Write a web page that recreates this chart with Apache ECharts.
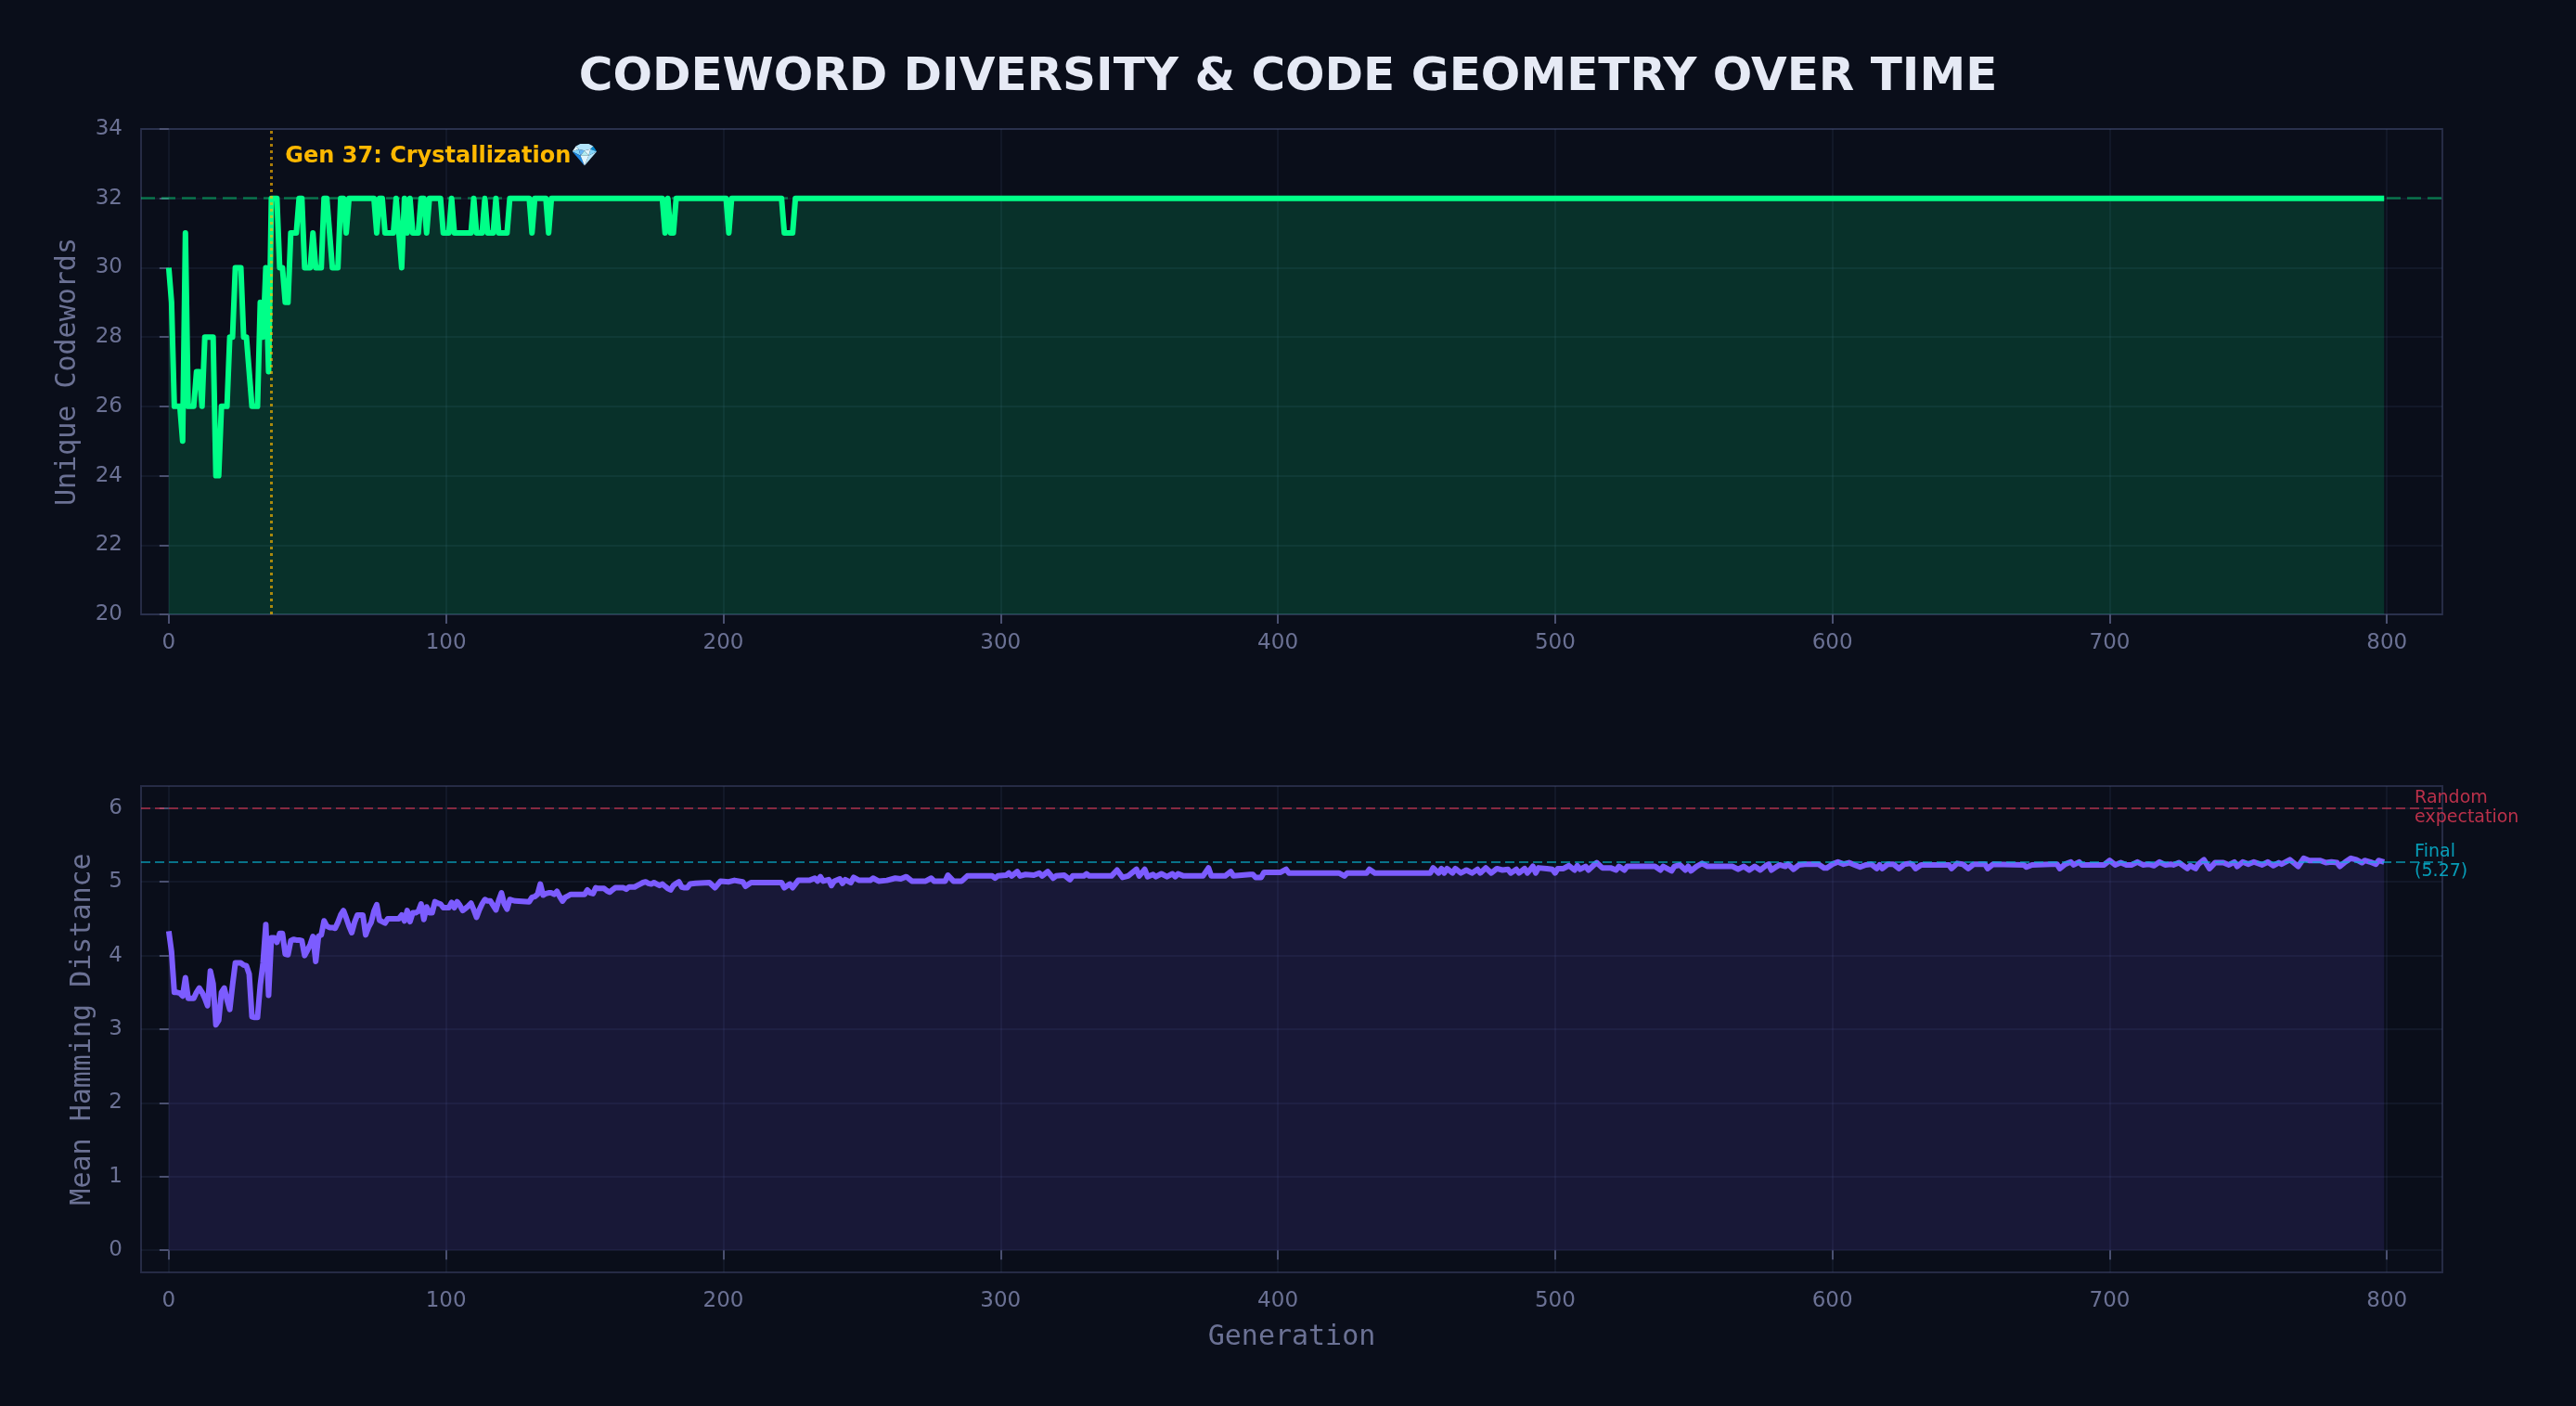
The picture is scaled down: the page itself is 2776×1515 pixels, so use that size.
<!DOCTYPE html>
<html>
<head>
<meta charset="utf-8">
<title>Codeword Diversity & Code Geometry</title>
<script src="https://cdn.jsdelivr.net/npm/echarts@6/dist/echarts.min.js"></script>
<style>
  html, body { margin: 0; padding: 0; background: #0a0e1a; }
  #chart { width: 2776px; height: 1515px; }
</style>
</head>
<body>
<div id="chart"></div>
<script>
// tick labels
var genTicks = [0, 100, 200, 300, 400, 500, 600, 700, 800];
var hammingTicks = [0, 1, 2, 3, 4, 5, 6];

// unique codewords per generation (points where the value changes)
var codewordGens = [0, 1, 2, 3, 4, 5, 6, 7, 8, 9, 10, 11, 12, 13, 14, 15, 16, 17, 18, 19,
  20, 21, 22, 23, 24, 25, 26, 27, 28, 29, 30, 31, 32, 33, 34, 35, 36, 37, 38, 39,
  40, 41, 42, 43, 44, 45, 46, 47, 48, 49, 50, 51, 52, 53, 54, 55, 56, 57, 58, 59,
  60, 61, 62, 63, 64, 65, 74, 75, 76, 77, 78, 81, 82, 83, 84, 85, 86, 87, 88, 90,
  91, 92, 93, 94, 98, 99, 101, 102, 103, 109, 110, 111, 113, 114, 115, 117, 118, 119, 122, 123,
  130, 131, 132, 136, 137, 138, 178, 179, 180, 181, 182, 183, 201, 202, 203, 221, 222, 225, 226, 799];
var codewordVals = [30, 29, 26, 26, 26, 25, 31, 26, 26, 26, 27, 27, 26, 28, 28, 28, 28, 24, 24, 26,
  26, 26, 28, 28, 30, 30, 30, 28, 28, 27, 26, 26, 26, 29, 28, 30, 27, 32, 32, 32,
  30, 30, 29, 29, 31, 31, 31, 32, 32, 30, 30, 30, 31, 30, 30, 30, 32, 32, 31, 30,
  30, 30, 32, 32, 31, 32, 32, 31, 32, 32, 31, 31, 32, 31, 30, 32, 31, 32, 31, 31,
  32, 32, 31, 32, 32, 31, 31, 32, 31, 31, 32, 31, 31, 32, 31, 31, 32, 31, 31, 32,
  32, 31, 32, 32, 31, 32, 32, 31, 32, 31, 31, 32, 32, 31, 32, 32, 31, 31, 32, 32];

// mean hamming distance per generation
var hammingGens = [0, 1, 2, 3, 4, 5, 6, 7, 8, 9, 10, 11, 12, 13, 14, 15, 16, 17, 18, 19,
  20, 21, 22, 23, 24, 25, 26, 27, 28, 29, 30, 31, 32, 33, 34, 35, 36, 37, 38, 39,
  40, 41, 42, 43, 44, 45, 46, 47, 48, 49, 50, 51, 52, 53, 54, 55, 56, 57, 58, 59,
  60, 61, 62, 63, 64, 65, 66, 67, 68, 69, 70, 71, 72, 73, 74, 75, 76, 77, 78, 79,
  80, 83, 84, 85, 86, 87, 88, 89, 90, 91, 92, 93, 94, 95, 96, 97, 98, 99, 100, 101,
  102, 103, 104, 105, 106, 107, 108, 109, 110, 111, 112, 113, 114, 115, 116, 117, 118, 119, 120, 121,
  122, 123, 124, 125, 130, 131, 132, 133, 134, 135, 136, 137, 138, 139, 140, 141, 142, 143, 144, 145,
  150, 151, 152, 153, 154, 155, 157, 158, 159, 160, 161, 164, 165, 166, 168, 169, 170, 171, 172, 173,
  174, 175, 176, 177, 178, 179, 180, 181, 182, 183, 184, 185, 186, 187, 188, 190, 195, 197, 199, 202,
  204, 207, 208, 210, 221, 222, 224, 225, 227, 231, 233, 234, 235, 236, 238, 239, 240, 242, 243, 244,
  246, 247, 249, 253, 254, 256, 259, 262, 264, 266, 268, 273, 275, 276, 280, 281, 283, 286, 288, 297,
  298, 299, 302, 303, 304, 306, 307, 309, 312, 314, 315, 317, 319, 320, 323, 325, 326, 330, 331, 332,
  340, 342, 344, 346, 349, 350, 352, 353, 355, 356, 358, 360, 362, 363, 364, 366, 373, 375, 376, 381,
  383, 384, 390, 391, 392, 394, 395, 401, 403, 404, 422, 424, 425, 432, 433, 435, 455, 456, 458, 459,
  460, 461, 463, 464, 466, 468, 470, 472, 473, 475, 477, 479, 481, 483, 484, 486, 487, 489, 490, 492,
  493, 494, 497, 499, 500, 501, 503, 505, 507, 508, 509, 511, 512, 514, 515, 517, 520, 522, 523, 525,
  526, 536, 538, 539, 542, 543, 545, 547, 548, 549, 551, 553, 555, 564, 566, 568, 570, 572, 574, 576,
  577, 578, 580, 581, 583, 584, 586, 588, 590, 595, 597, 598, 600, 602, 604, 606, 608, 610, 612, 614,
  616, 617, 618, 620, 622, 624, 626, 628, 629, 630, 632, 642, 643, 645, 647, 649, 651, 655, 656, 658,
  669, 670, 672, 679, 681, 682, 684, 686, 687, 689, 690, 698, 700, 702, 704, 706, 708, 710, 712, 714,
  716, 718, 720, 722, 723, 725, 728, 729, 731, 732, 734, 736, 738, 741, 743, 745, 746, 748, 750, 752,
  755, 757, 759, 761, 762, 765, 766, 768, 770, 772, 774, 776, 778, 780, 782, 783, 785, 787, 789, 791,
  792, 794, 796, 797, 799];
var hammingVals = [4.33, 4.05, 3.50, 3.50, 3.49, 3.45, 3.70, 3.42, 3.42, 3.42, 3.50, 3.56, 3.50, 3.42, 3.32, 3.79, 3.62, 3.06, 3.12, 3.50,
  3.56, 3.40, 3.27, 3.60, 3.90, 3.90, 3.90, 3.87, 3.86, 3.75, 3.17, 3.16, 3.16, 3.60, 3.90, 4.42, 3.46, 4.24, 4.24, 4.18,
  4.30, 4.30, 4.02, 4.01, 4.20, 4.22, 4.21, 4.21, 4.20, 4.00, 4.07, 4.15, 4.26, 3.92, 4.26, 4.28, 4.47, 4.40, 4.38, 4.38,
  4.37, 4.45, 4.55, 4.61, 4.51, 4.40, 4.31, 4.45, 4.55, 4.55, 4.55, 4.28, 4.38, 4.45, 4.60, 4.69, 4.48, 4.46, 4.44, 4.50,
  4.50, 4.50, 4.55, 4.47, 4.61, 4.46, 4.58, 4.58, 4.60, 4.70, 4.49, 4.66, 4.58, 4.58, 4.73, 4.71, 4.70, 4.65, 4.65, 4.65,
  4.72, 4.65, 4.73, 4.68, 4.61, 4.64, 4.67, 4.71, 4.62, 4.52, 4.62, 4.70, 4.76, 4.74, 4.74, 4.68, 4.62, 4.75, 4.85, 4.70,
  4.63, 4.76, 4.75, 4.74, 4.73, 4.79, 4.80, 4.83, 4.97, 4.82, 4.84, 4.85, 4.85, 4.83, 4.87, 4.80, 4.74, 4.79, 4.81, 4.83,
  4.83, 4.89, 4.85, 4.84, 4.92, 4.91, 4.91, 4.88, 4.86, 4.89, 4.92, 4.92, 4.90, 4.93, 4.93, 4.95, 4.97, 4.99, 5.00, 4.98,
  4.97, 4.99, 4.97, 4.95, 4.97, 4.94, 4.91, 4.89, 4.95, 4.98, 5.00, 4.93, 4.92, 4.92, 4.97, 4.98, 4.99, 4.92, 5.01, 5.00,
  5.02, 5.00, 4.94, 4.99, 4.99, 4.92, 4.97, 4.92, 5.02, 5.02, 5.05, 5.01, 5.07, 5.01, 5.03, 4.95, 5.01, 5.04, 4.98, 5.03,
  4.99, 5.06, 5.02, 5.02, 5.05, 5.01, 5.02, 5.05, 5.04, 5.07, 5.01, 5.01, 5.05, 5.01, 5.01, 5.09, 5.01, 5.01, 5.08, 5.08,
  5.05, 5.08, 5.09, 5.12, 5.08, 5.14, 5.08, 5.10, 5.09, 5.12, 5.08, 5.14, 5.05, 5.08, 5.09, 5.03, 5.08, 5.08, 5.11, 5.08,
  5.08, 5.16, 5.06, 5.08, 5.17, 5.08, 5.17, 5.07, 5.10, 5.07, 5.11, 5.07, 5.11, 5.07, 5.11, 5.08, 5.08, 5.19, 5.08, 5.08,
  5.14, 5.08, 5.10, 5.10, 5.06, 5.06, 5.13, 5.13, 5.17, 5.12, 5.12, 5.08, 5.12, 5.12, 5.17, 5.12, 5.12, 5.19, 5.12, 5.18,
  5.12, 5.18, 5.12, 5.18, 5.12, 5.16, 5.12, 5.17, 5.12, 5.19, 5.12, 5.18, 5.16, 5.17, 5.12, 5.17, 5.12, 5.18, 5.12, 5.21,
  5.12, 5.19, 5.18, 5.17, 5.12, 5.18, 5.18, 5.22, 5.16, 5.22, 5.17, 5.21, 5.16, 5.23, 5.26, 5.19, 5.19, 5.16, 5.21, 5.16,
  5.21, 5.21, 5.16, 5.21, 5.15, 5.21, 5.23, 5.16, 5.21, 5.15, 5.21, 5.25, 5.21, 5.21, 5.17, 5.21, 5.16, 5.21, 5.16, 5.22,
  5.24, 5.16, 5.21, 5.23, 5.21, 5.24, 5.17, 5.23, 5.24, 5.24, 5.19, 5.19, 5.24, 5.27, 5.24, 5.26, 5.23, 5.20, 5.23, 5.24,
  5.18, 5.23, 5.18, 5.24, 5.24, 5.18, 5.24, 5.25, 5.23, 5.18, 5.23, 5.23, 5.18, 5.25, 5.24, 5.18, 5.24, 5.24, 5.18, 5.24,
  5.23, 5.20, 5.23, 5.24, 5.24, 5.18, 5.24, 5.27, 5.23, 5.27, 5.23, 5.23, 5.29, 5.23, 5.26, 5.23, 5.23, 5.27, 5.23, 5.24,
  5.22, 5.27, 5.23, 5.24, 5.23, 5.26, 5.18, 5.22, 5.18, 5.24, 5.30, 5.18, 5.26, 5.26, 5.23, 5.27, 5.21, 5.27, 5.24, 5.27,
  5.23, 5.27, 5.22, 5.26, 5.24, 5.30, 5.27, 5.21, 5.32, 5.29, 5.29, 5.29, 5.26, 5.27, 5.26, 5.21, 5.27, 5.32, 5.30, 5.26,
  5.29, 5.27, 5.24, 5.29, 5.27];

var crystalGen = 37;
var optimalCount = 32;
var randomExpectation = 6;
var finalDistance = 5.27;

function zip(xs, ys) {
  var out = [];
  for (var i = 0; i < xs.length; i++) out.push([xs[i], ys[i]]);
  return out;
}

var bg = '#0a0e1a';
var labelColor = '#6b7194';
var frameColor = '#262b45';
var gridColor = 'rgba(80,90,140,0.18)';

function xAxisFor(idx, name) {
  return {
    type: 'value', gridIndex: idx, min: -10, max: 820,
    name: name || '', nameLocation: 'middle', nameGap: 55,
    nameTextStyle: { color: labelColor, fontSize: 30, fontFamily: 'DejaVu Sans Mono' },
    axisLine: { show: false },
    axisTick: { show: true, length: 10, customValues: genTicks, lineStyle: { color: '#4a5070', width: 2 } },
    axisLabel: { customValues: genTicks, color: labelColor, fontSize: 23, fontFamily: 'DejaVu Sans', margin: 20 },
    splitLine: { show: true, lineStyle: { color: gridColor, width: 1.5 } }
  };
}

var chart = echarts.init(document.getElementById('chart'));
chart.setOption({
  backgroundColor: bg,
  animation: false,
  title: {
    text: 'CODEWORD DIVERSITY & CODE GEOMETRY OVER TIME',
    left: 'center', top: 54,
    textStyle: { color: '#e6eaf5', fontSize: 50, fontWeight: 'bold', fontFamily: 'DejaVu Sans' }
  },
  grid: [
    { left: 152, top: 139, width: 2480, height: 523, show: true, borderColor: frameColor, borderWidth: 2,
      backgroundColor: 'transparent', containLabel: false, outerBoundsMode: 'none' },
    { left: 152, top: 847, width: 2480, height: 524, show: true, borderColor: frameColor, borderWidth: 2,
      backgroundColor: 'transparent', containLabel: false, outerBoundsMode: 'none' }
  ],
  xAxis: [xAxisFor(0), xAxisFor(1, 'Generation')],
  yAxis: [
    {
      type: 'value', gridIndex: 0, min: 20, max: 34, interval: 2,
      name: 'Unique Codewords', nameLocation: 'middle', nameGap: 64,
      nameTextStyle: { color: labelColor, fontSize: 30, fontFamily: 'DejaVu Sans Mono' },
      axisLine: { show: false },
      axisTick: { show: true, length: 10, lineStyle: { color: '#4a5070', width: 2 } },
      axisLabel: { color: labelColor, fontSize: 23, fontFamily: 'DejaVu Sans', margin: 20 },
      splitLine: { show: true, lineStyle: { color: gridColor, width: 1.5 } }
    },
    {
      type: 'value', gridIndex: 1, min: -0.3, max: 6.3,
      name: 'Mean Hamming Distance', nameLocation: 'middle', nameGap: 48,
      nameTextStyle: { color: labelColor, fontSize: 30, fontFamily: 'DejaVu Sans Mono' },
      axisLine: { show: false },
      axisTick: { show: true, length: 10, customValues: hammingTicks, lineStyle: { color: '#4a5070', width: 2 } },
      axisLabel: { customValues: hammingTicks, color: labelColor, fontSize: 23, fontFamily: 'DejaVu Sans', margin: 20 },
      splitLine: { show: true, lineStyle: { color: gridColor, width: 1.5 } }
    }
  ],
  series: [
    {
      name: 'Unique Codewords', type: 'line', xAxisIndex: 0, yAxisIndex: 0,
      data: zip(codewordGens, codewordVals),
      showSymbol: false, clip: false,
      lineStyle: { color: '#00ff88', width: 6, join: 'round' },
      areaStyle: { color: 'rgba(0,255,136,0.15)', opacity: 1, origin: 'start' },
      markLine: {
        silent: true, symbol: 'none', label: { show: false },
        data: [
          { yAxis: optimalCount, lineStyle: { color: 'rgba(0,255,136,0.4)', width: 2.5, type: [15, 7] } },
          { xAxis: crystalGen, lineStyle: { color: 'rgba(255,184,0,0.65)', width: 3, type: [3, 4] } }
        ]
      },
      markPoint: {
        symbol: 'circle', symbolSize: 0, silent: true,
        data: [{
          coord: [crystalGen + 5, 33.2],
          label: {
            show: true, position: 'right', distance: 0,
            formatter: 'Gen ' + crystalGen + ': Crystallization\uD83D\uDC8E',
            color: '#ffb800', fontSize: 24, fontWeight: 'bold', fontFamily: 'DejaVu Sans'
          }
        }]
      }
    },
    {
      name: 'Mean Hamming Distance', type: 'line', xAxisIndex: 1, yAxisIndex: 1,
      data: zip(hammingGens, hammingVals),
      showSymbol: false, clip: false,
      lineStyle: { color: '#7c5cff', width: 6, join: 'round' },
      areaStyle: { color: 'rgba(124,92,255,0.13)', opacity: 1, origin: 'auto' },
      markLine: {
        silent: true, symbol: 'none', label: { show: false },
        data: [
          { yAxis: randomExpectation, lineStyle: { color: 'rgba(230,57,86,0.55)', width: 2.2, type: [10, 5] } },
          { yAxis: finalDistance, lineStyle: { color: 'rgba(6,182,212,0.6)', width: 2.2, type: [10, 5] } }
        ]
      },
      markPoint: {
        symbol: 'circle', symbolSize: 0, silent: true,
        data: [
          {
            coord: [810, randomExpectation],
            label: {
              show: true, position: 'right', distance: 0,
              formatter: 'Random\nexpectation',
              color: 'rgba(230,57,86,0.8)', fontSize: 19, lineHeight: 21, fontFamily: 'DejaVu Sans'
            }
          },
          {
            coord: [810, finalDistance],
            label: {
              show: true, position: 'right', distance: 0,
              formatter: 'Final\n(' + finalDistance.toFixed(2) + ')',
              color: 'rgba(6,182,212,0.85)', fontSize: 19, lineHeight: 21, fontFamily: 'DejaVu Sans'
            }
          }
        ]
      }
    }
  ]
});
</script>
</body>
</html>
